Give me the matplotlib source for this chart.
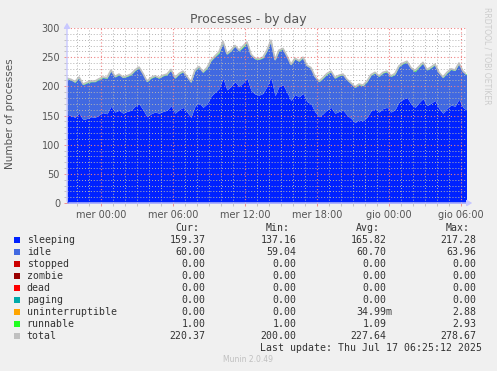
import numpy as np
import matplotlib
matplotlib.use("Agg")
import matplotlib.pyplot as plt
from matplotlib.ticker import MultipleLocator

# ---------------- data ----------------
start_hour = -2.8333          # hours relative to "mer 00:00"
step_hour = 1.0 / 3.0         # 20 minutes per sample

sleeping = [152, 150, 147, 154, 143, 145, 148, 147, 151, 155,
            153, 166, 156, 159, 154, 157, 159, 166, 170, 160,
            148, 153, 156, 154, 157, 159, 167, 154, 160, 164,
            156, 147, 166, 172, 164, 170, 183, 190, 196, 214,
            194, 200, 208, 200, 206, 214, 193, 187, 185, 188,
            200, 216, 184, 200, 203, 190, 176, 186, 182, 188,
            174, 170, 156, 148, 153, 160, 164, 154, 157, 159,
            151, 145, 138, 143, 141, 147, 158, 162, 156, 162,
            164, 156, 160, 173, 178, 181, 170, 164, 172, 179,
            167, 171, 176, 162, 154, 162, 168, 166, 178, 164,
            159]
idle = [61, 61, 60, 61, 60, 61, 60, 61, 61, 60,
        61, 61, 60, 61, 61, 60, 61, 61, 62, 61,
        60, 61, 61, 60, 61, 61, 61, 60, 61, 61,
        60, 60, 61, 61, 60, 61, 61, 61, 61, 62,
        61, 61, 61, 61, 61, 61, 61, 60, 61, 61,
        61, 62, 61, 61, 61, 61, 61, 61, 61, 61,
        61, 61, 60, 60, 61, 61, 61, 60, 61, 61,
        60, 60, 60, 60, 60, 61, 61, 61, 61, 61,
        61, 61, 61, 61, 61, 61, 61, 61, 61, 61,
        61, 61, 61, 61, 61, 61, 61, 61, 61, 61,
        60]
stopped = [0] * 101
zombie = [0] * 101
dead = [0] * 101
paging = [0] * 101
uninterruptible = [0] * 101
runnable = [1, 1, 1, 1, 1, 1, 1, 1, 1, 1,
            1, 1, 1, 1, 1, 1, 1, 1, 1, 1,
            1, 1, 1, 1, 1, 1, 1, 1, 1, 1,
            1, 1, 1, 1, 1, 1, 1, 1, 2, 1,
            1, 1, 1, 1, 2, 1, 1, 1, 1, 1,
            1, 1, 1, 1, 1, 1, 1, 1, 1, 1,
            1, 1, 1, 1, 1, 1, 1, 1, 1, 1,
            1, 1, 1, 1, 1, 1, 1, 1, 1, 1,
            1, 1, 1, 1, 1, 1, 1, 2, 1, 1,
            1, 1, 1, 1, 1, 1, 1, 1, 1, 1,
            1]

series_names = ["sleeping", "idle", "stopped", "zombie", "dead", "paging",
                "uninterruptible", "runnable", "total"]
series_colors = ["#0022ff", "#4169e1", "#cc0000", "#990000", "#ff0000",
                 "#00aaaa", "#ffa500", "#22ff22", "#c0c0c0"]
cur_vals = ["159.37", "60.00", "0.00", "0.00", "0.00", "0.00", "0.00", "1.00", "220.37"]
min_vals = ["137.16", "59.04", "0.00", "0.00", "0.00", "0.00", "0.00", "1.00", "200.00"]
avg_vals = ["165.82", "60.70", "0.00", "0.00", "0.00", "0.00", "34.99m", "1.09", "227.64"]
max_vals = ["217.28", "63.96", "0.00", "0.00", "0.00", "0.00", "2.88", "2.93", "278.67"]

xtick_hours = [0, 6, 12, 18, 24, 30]
xtick_labels = ["mer 00:00", "mer 06:00", "mer 12:00", "mer 18:00", "gio 00:00", "gio 06:00"]

# ---------------- figure ----------------
W, H = 497, 371
fig = plt.figure(figsize=(W / 100, H / 100), dpi=100, facecolor="#F0F0F0")
ax = fig.add_axes([67 / W, 1 - 203 / H, 399 / W, 175 / H])
ax.set_facecolor("white")

t = start_hour + step_hour * np.arange(len(sleeping))
stack = [sleeping, idle, stopped, zombie, dead, paging, uninterruptible, runnable]
base = np.zeros(len(t))
for vals, col in zip(stack, series_colors[:8]):
    top = base + np.asarray(vals, dtype=float)
    ax.fill_between(t, base, top, color=col, linewidth=0, zorder=1)
    base = top
total = base
ax.plot(t, total, color=series_colors[8], linewidth=1.2, zorder=2)

ax.set_xlim(-2.8333, 30.42)
ax.set_ylim(0, 300)

# grid
ax.set_axisbelow(False)
ax.xaxis.set_major_locator(plt.FixedLocator(xtick_hours))
ax.xaxis.set_minor_locator(MultipleLocator(1))
ax.yaxis.set_major_locator(MultipleLocator(50))
ax.yaxis.set_minor_locator(MultipleLocator(10))
ax.grid(which="minor", color="#b4b4b4", linestyle=(0, (1, 2)), linewidth=0.7)
ax.grid(which="major", color="#f08080", linestyle=(0, (1, 2)), linewidth=0.8)

ax.set_xticklabels(xtick_labels)
ax.tick_params(axis="both", which="major", labelsize=7, labelcolor="#555555",
               color="#f08080", length=2, width=0.6, pad=3)
ax.tick_params(axis="both", which="minor", color="#b0b0b0", length=2, width=0.5)
for s in ax.spines.values():
    s.set_visible(False)

# axis lines with arrows (rrdtool style)
ax_col = "#c8c8ff"
fig.add_artist(matplotlib.patches.FancyArrowPatch(
    (67 / W, 1 - 204 / H), (67 / W, 1 - 20 / H), transform=fig.transFigure,
    arrowstyle="-|>,head_length=3,head_width=1.8", color=ax_col, linewidth=1, mutation_scale=1))
fig.add_artist(matplotlib.patches.FancyArrowPatch(
    (66 / W, 1 - 203 / H), (475 / W, 1 - 203 / H), transform=fig.transFigure,
    arrowstyle="-|>,head_length=3,head_width=1.8", color=ax_col, linewidth=1, mutation_scale=1))

# texts
fig.text(248 / W, 1 - 20 / H, "Processes - by day", ha="center", va="center",
         fontsize=9, color="#555555")
fig.text(10 / W, 1 - 114 / H, "Number of processes", ha="center", va="center",
         rotation=90, fontsize=7.5, color="#555555")
fig.text(487 / W, 1 - 56 / H, "RRDTOOL / TOBI OETIKER", ha="center", va="center",
         rotation=270, fontsize=5.5, color="#cccccc")

mono = "DejaVu Sans Mono"
fs = 7.1
tc = "#333333"
hdr_y = 228
for lab, xr in zip(["Cur:", "Min:", "Avg:", "Max:"], [199, 290, 380, 470]):
    fig.text(xr / W, 1 - hdr_y / H, lab, ha="right", va="center",
             fontsize=fs, family=mono, color=tc)

row0 = 239.7
dy = 12.0
for i, name in enumerate(series_names):
    y = row0 + i * dy
    fig.patches.append(matplotlib.patches.Rectangle(
        (14 / W, 1 - (y + 3) / H), 6 / W, 6 / H, transform=fig.transFigure,
        facecolor=series_colors[i], edgecolor="none"))
    fig.text(26.7 / W, 1 - y / H, name, ha="left", va="center",
             fontsize=fs, family=mono, color=tc)
    for vals, xr in zip([cur_vals, min_vals, avg_vals, max_vals], [205.7, 296.7, 386.7, 476.7]):
        v = vals[i]
        xx = xr + 6 if v.endswith("m") else xr
        fig.text(xx / W, 1 - y / H, v, ha="right", va="center",
                 fontsize=fs, family=mono, color=tc)

fig.text(482 / W, 1 - 347.7 / H, "Last update: Thu Jul 17 06:25:12 2025", ha="right",
         va="center", fontsize=fs, family=mono, color=tc)
fig.text(248 / W, 1 - 360 / H, "Munin 2.0.49", ha="center", va="center",
         fontsize=5.5, color="#c0c0c0")

fig.savefig("out.png", dpi=100, facecolor=fig.get_facecolor())
